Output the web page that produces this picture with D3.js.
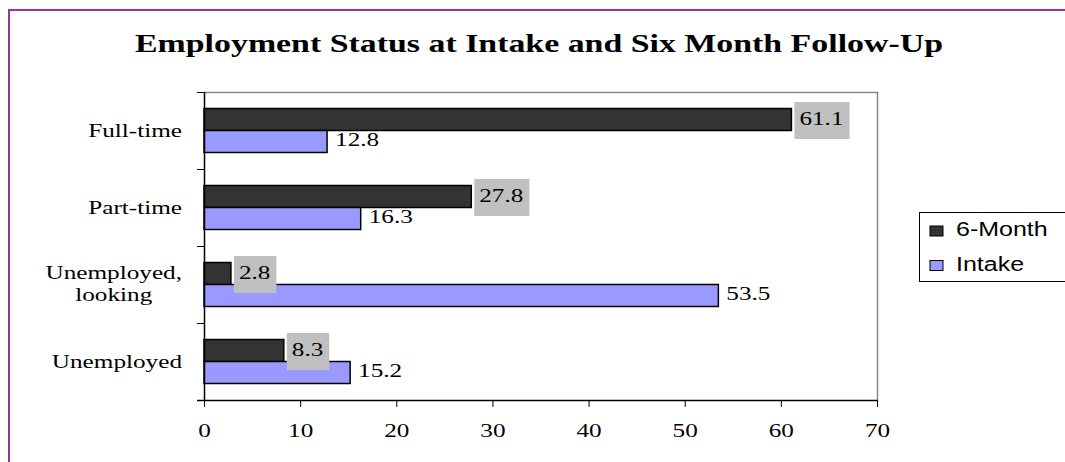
<!DOCTYPE html>
<html>
<head>
<meta charset="utf-8">
<script src="https://cdn.jsdelivr.net/npm/d3@7"></script>
<style>
  html, body { margin: 0; padding: 0; background: #fff; }
  svg { display: block; }
</style>
</head>
<body>
<div id="chart"></div>
<script>
var categories = ['Full-time', 'Part-time', 'Unemployed,\nlooking', 'Unemployed'];
var seriesNames = ['6-Month', 'Intake'];
var sixMonth = [61.1, 27.8, 2.8, 8.3];
var intake = [12.8, 16.3, 53.5, 15.2];
var xTicks = [0, 10, 20, 30, 40, 50, 60, 70];
var title = 'Employment Status at Intake and Six Month Follow-Up';

var width = 1065, height = 462;
var colors = { '6-Month': '#333333', 'Intake': '#9999ff' };
var serif = '"Liberation Serif", "Times New Roman", serif';
var sans = '"Liberation Sans", Arial, sans-serif';

var svg = d3.select('#chart').append('svg')
    .attr('width', width)
    .attr('height', height);

// the reference renders its text wide, so stretch each text horizontally
var stretch = function(sel, k) {
  sel.each(function() {
    var w = this.getComputedTextLength();
    d3.select(this).attr('textLength', w * k).attr('lengthAdjust', 'spacingAndGlyphs');
  });
};

// outer purple frame (runs past the right and bottom edge)
svg.append('rect')
    .attr('x', 9).attr('y', 10)
    .attr('width', 1100).attr('height', 500)
    .attr('fill', 'none')
    .attr('stroke', '#993399')
    .attr('stroke-width', 2);

var titleText = svg.append('text')
    .attr('x', 539).attr('y', 52)
    .attr('text-anchor', 'middle')
    .attr('font-family', serif)
    .attr('font-weight', 'bold')
    .attr('font-size', 26)
    .text(title);
titleText.attr('textLength', 808).attr('lengthAdjust', 'spacingAndGlyphs');

var plot = { left: 204, right: 877, top: 92, bottom: 400 };

var x = d3.scaleLinear().domain([0, 70]).range([plot.left, plot.right]);
var y = d3.scaleBand().domain(categories).range([plot.top, plot.bottom])
    .paddingInner(0.4286).paddingOuter(0.2143);
var ySub = d3.scaleBand().domain(seriesNames).range([0, y.bandwidth()]);

var rows = categories.map(function(c, i) {
  return { cat: c, values: [
    { name: '6-Month', value: sixMonth[i] },
    { name: 'Intake', value: intake[i] }
  ] };
});

// gray frame on top and right of plot area
svg.append('path')
    .attr('d', 'M' + plot.left + ',' + (plot.top + 0.5) + 'H' + (plot.right + 0.5) + 'V' + plot.bottom)
    .attr('fill', 'none')
    .attr('stroke', '#888')
    .attr('stroke-width', 1.5);

var groups = svg.append('g').selectAll('g.row')
    .data(rows).enter().append('g')
    .attr('class', 'row')
    .attr('transform', function(d) { return 'translate(0,' + y(d.cat) + ')'; });

groups.selectAll('rect.bar')
    .data(function(d) { return d.values; })
    .enter().append('rect')
    .attr('class', 'bar')
    .attr('x', x(0))
    .attr('y', function(d) { return ySub(d.name); })
    .attr('width', function(d) { return x(d.value) - x(0); })
    .attr('height', ySub.bandwidth())
    .attr('fill', function(d) { return colors[d.name]; })
    .attr('stroke', '#000')
    .attr('stroke-width', 1.5);

// value labels
groups.each(function(d) {
  var g = d3.select(this);
  var six = d.values[0], ink = d.values[1];
  var cy6 = ySub('6-Month') + ySub.bandwidth() / 2;
  var cyI = ySub('Intake') + ySub.bandwidth() / 2;

  var box = g.append('rect').attr('fill', '#c0c0c0');
  var t6 = g.append('text')
      .attr('x', x(six.value) + 8)
      .attr('y', cy6 + 6)
      .attr('font-family', serif)
      .attr('font-size', 18)
      .text(six.value.toFixed(1));
  stretch(t6, 1.4);
  var w6 = +t6.attr('textLength');
  box.attr('x', x(six.value) + 3)
      .attr('y', cy6 - 17.5)
      .attr('width', w6 + 11)
      .attr('height', 37);

  var tI = g.append('text')
      .attr('x', x(ink.value) + 8)
      .attr('y', cyI + 5)
      .attr('font-family', serif)
      .attr('font-size', 18)
      .text(ink.value.toFixed(1));
  stretch(tI, 1.4);
});

// category labels
groups.each(function(d) {
  var g = d3.select(this);
  var lines = d.cat.split('\n');
  var cy = y.bandwidth() / 2;
  var t = g.append('text')
      .attr('font-family', serif)
      .attr('font-size', 18)
      .attr('text-anchor', lines.length > 1 ? 'middle' : 'end');
  var first = lines.length > 1 ? cy - 6 : cy + 6.5;
  lines.forEach(function(line, i) {
    t.append('tspan').attr('x', 182).attr('y', first + i * 22.5).text(line);
  });
  var maxW = 0;
  t.selectAll('tspan').each(function() {
    var w = this.getComputedTextLength() * 1.4;
    d3.select(this).attr('textLength', w).attr('lengthAdjust', 'spacingAndGlyphs');
    maxW = Math.max(maxW, w);
  });
  if (lines.length > 1) {
    t.selectAll('tspan').attr('x', 182 - maxW / 2);
  }
});

// axes
var xAxis = d3.axisBottom(x).tickValues(xTicks).tickSize(7).tickSizeOuter(0).tickFormat(d3.format('d'));
var xg = svg.append('g')
    .attr('transform', 'translate(0,' + plot.bottom + ')')
    .call(xAxis);
xg.select('.domain').attr('d', 'M' + (plot.left - 7) + ',0.5H' + (plot.right + 0.5))
    .attr('stroke', '#000').attr('stroke-width', 1.5);
xg.selectAll('.tick line').attr('stroke', '#000');
xg.selectAll('.tick text')
    .attr('font-family', serif)
    .attr('font-size', 18)
    .attr('fill', '#000')
    .attr('y', 0).attr('dy', null)
    .attr('transform', 'translate(0,37)');
stretch(xg.selectAll('.tick text'), 1.4);

var bounds = y.domain().map(function(c) { return y(c) - y.step() * y.paddingInner() / 2; });
bounds.push(plot.bottom);
var yg = svg.append('g');
yg.append('line')
    .attr('x1', plot.left + 0.5).attr('x2', plot.left + 0.5)
    .attr('y1', plot.top).attr('y2', plot.bottom)
    .attr('stroke', '#000').attr('stroke-width', 1.5);
yg.selectAll('line.tick')
    .data(bounds).enter().append('line')
    .attr('class', 'tick')
    .attr('x1', plot.left - 7).attr('x2', plot.left)
    .attr('y1', function(d) { return Math.round(d) + 0.5; })
    .attr('y2', function(d) { return Math.round(d) + 0.5; })
    .attr('stroke', '#000');

// legend
var legend = svg.append('g');
legend.append('rect')
    .attr('x', 919.5).attr('y', 212.5)
    .attr('width', 200).attr('height', 69)
    .attr('fill', '#fff')
    .attr('stroke', '#000');
var items = legend.selectAll('g.item')
    .data(seriesNames).enter().append('g')
    .attr('class', 'item')
    .attr('transform', function(d, i) { return 'translate(0,' + (i * 34.5) + ')'; });
items.append('rect')
    .attr('x', 930).attr('y', 226)
    .attr('width', 13).attr('height', 10)
    .attr('fill', function(d) { return colors[d]; })
    .attr('stroke', '#000');
var legText = items.append('text')
    .attr('x', 956).attr('y', 236)
    .attr('font-family', sans)
    .attr('font-size', 20)
    .text(function(d) { return d; });
stretch(legText, 1.25);
</script>
</body>
</html>
